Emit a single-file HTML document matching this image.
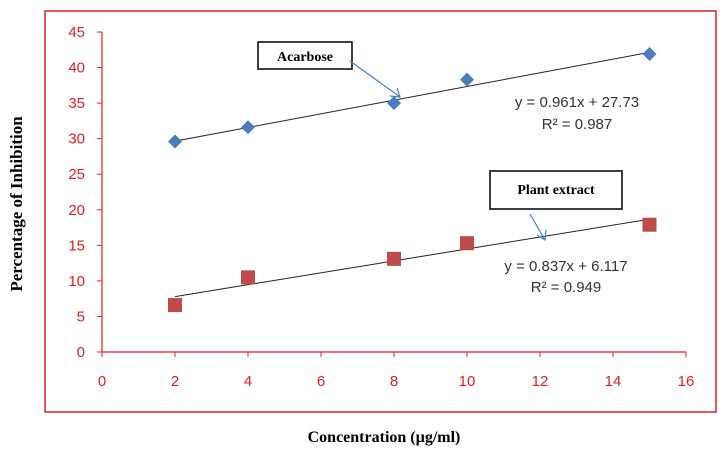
<!DOCTYPE html>
<html><head><meta charset="utf-8"><style>
body{margin:0;background:#fff;width:722px;height:451px;overflow:hidden}
svg{display:block}
</style></head><body>
<svg id="c" width="722" height="451" xmlns="http://www.w3.org/2000/svg">
<rect x="45" y="11" width="671" height="401" fill="none" stroke="#e02020" stroke-width="1.5"/>
<g id="axes"></g>
<g id="marks"></g>
<text x="384" y="442" text-anchor="middle" font-family="Liberation Serif, serif" font-weight="bold" font-size="16">Concentration  (µg/ml)</text>
<text transform="translate(22,204) rotate(-90)" text-anchor="middle" font-family="Liberation Serif, serif" font-weight="bold" font-size="17">Percentage of Inhibition</text>
<rect x="258" y="42" width="94" height="27" fill="#fff" stroke="#000" stroke-width="1.5"/>
<text x="305" y="61" text-anchor="middle" font-family="Liberation Serif, serif" font-weight="bold" font-size="14">Acarbose</text>
<line x1="350" y1="61" x2="400" y2="97" stroke="#4a7ebb" stroke-width="1.2"/>
<path d="M390,96 L400,97 L397,88" fill="none" stroke="#4a7ebb" stroke-width="1.2"/>
<rect x="490" y="171" width="132" height="38" fill="#fff" stroke="#000" stroke-width="1.5"/>
<text x="556" y="194" text-anchor="middle" font-family="Liberation Serif, serif" font-weight="bold" font-size="14">Plant extract</text>
<line x1="530" y1="214" x2="545" y2="240" stroke="#4a7ebb" stroke-width="1.2"/>
<path d="M537,235 L545,240 L546,230" fill="none" stroke="#4a7ebb" stroke-width="1.2"/>
<g font-family="Liberation Sans, sans-serif" font-size="15" fill="#333" text-anchor="middle">
<text x="577" y="107">y = 0.961x + 27.73</text>
<text x="577" y="129">R² = 0.987</text>
<text x="566" y="271">y = 0.837x + 6.117</text>
<text x="566" y="292">R² = 0.949</text>
</g>
</svg>
<script>
const xTicks=[0,2,4,6,8,10,12,14,16];
const yTicks=[0,5,10,15,20,25,30,35,40,45];
const concentrations=[2,4,8,10,15];
const acarbose=[29.6,31.6,35.0,38.3,41.9];
const plantExtract=[6.6,10.5,13.1,15.3,17.9];
const acarboseFit=[0.961,27.73];
const plantFit=[0.837,6.117];
const NS='http://www.w3.org/2000/svg';
const X=v=>102+v*(686-102)/16;
const Y=v=>352-v*(352-32)/45;
function mk(p,t,a){const e=document.createElementNS(NS,t);for(const k in a)e.setAttribute(k,a[k]);p.appendChild(e);return e;}
const ax=document.getElementById('axes'),mg=document.getElementById('marks');
const red='#e02020';
let l=mk(ax,'line',{x1:X(0),y1:Y(0),x2:X(16),y2:Y(0),stroke:red,'stroke-width':1.2});


l=mk(ax,'line',{x1:X(0),y1:Y(0),x2:X(0),y2:Y(45),stroke:red,'stroke-width':1.2});


xTicks.forEach(v=>{mk(ax,'line',{x1:X(v),y1:Y(0),x2:X(v),y2:Y(0)+5,stroke:red});
const t=mk(ax,'text',{x:X(v),y:Y(0)+34,'text-anchor':'middle','font-family':'Liberation Sans, sans-serif','font-size':15,fill:red});t.textContent=v;

});
yTicks.forEach(v=>{mk(ax,'line',{x1:X(0)-5,y1:Y(v),x2:X(0),y2:Y(v),stroke:red});
const t=mk(ax,'text',{x:X(0)-17,y:Y(v)+5,'text-anchor':'end','font-family':'Liberation Sans, sans-serif','font-size':15,fill:red});t.textContent=v;

});
function trend(f,name){const a=concentrations[0],b=concentrations[concentrations.length-1];
const e=mk(mg,'line',{x1:X(a),y1:Y(f[0]*a+f[1]),x2:X(b),y2:Y(f[0]*b+f[1]),stroke:'#222','stroke-width':1});

}
trend(acarboseFit,'acarbose-trendline');
trend(plantFit,'plant-extract-trendline');
concentrations.forEach((c,i)=>{const x=X(c),y=Y(acarbose[i]);
const d=mk(mg,'path',{d:`M${x},${y-7}L${x+7},${y}L${x},${y+7}L${x-7},${y}Z`,fill:'#4a7ebb'});


const y2=Y(plantExtract[i]);
const s=mk(mg,'rect',{x:x-7,y:y2-7,width:14,height:14,fill:'#be4b48'});

});
</script>
</body></html>
